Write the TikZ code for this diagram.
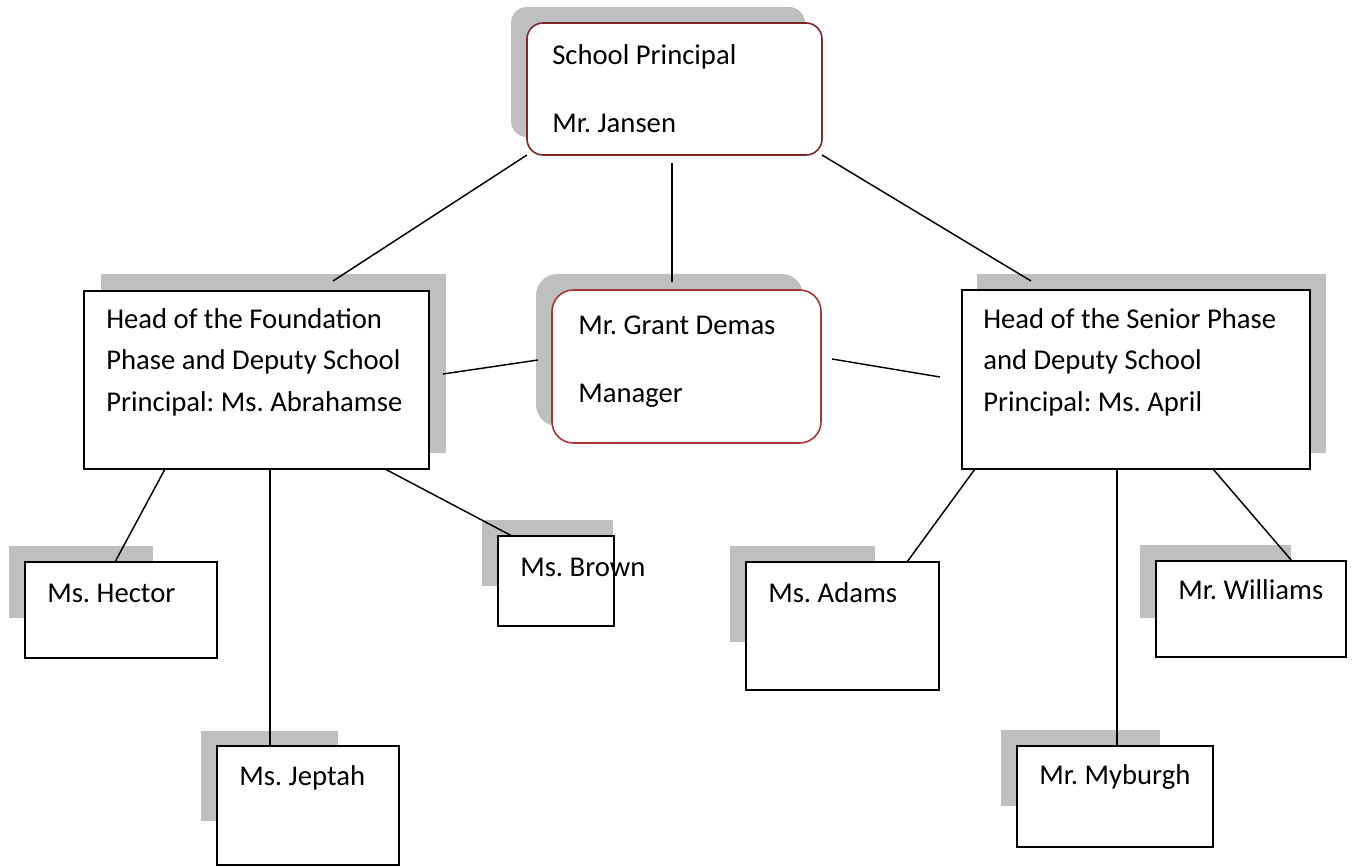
\documentclass[tikz,border=0pt]{standalone}
\usepackage{fontspec}
\setmainfont{Carlito}
\frenchspacing
\usetikzlibrary{calc}
\definecolor{shadowgray}{RGB}{191,191,191}
\definecolor{principalred}{RGB}{122,40,40}
\definecolor{managerred}{RGB}{170,52,52}
\begin{document}
\begin{tikzpicture}[x=0.75pt,y=-0.75pt,
  staffbox/.style={draw=black,fill=white,line width=1.5pt,inner sep=0pt,outer sep=0pt,anchor=north west},
  roundbox/.style={fill=white,line width=1.2pt,inner sep=0pt,outer sep=0pt,anchor=north west},
  boxtext/.style={anchor=base west,inner sep=0pt,align=left,font=\fontsize{21.5}{31}\selectfont},
  wide/.style={font=\fontsize{21.5}{51}\selectfont},
  link/.style={draw=black,line width=1.1pt}]
\useasboundingbox (0,0) rectangle (1363,866);
%% shadows
\fill[shadowgray,rounded corners=12pt] (511,7) rectangle (805,137);
\fill[shadowgray,rounded corners=16pt] (536,274) rectangle (803,426);
\fill[shadowgray] (101,274) rectangle (446,453);
\fill[shadowgray] (977,274) rectangle (1326,453);
\fill[shadowgray] (9,546) rectangle (153,618);
\fill[shadowgray] (482,520) rectangle (613,586);
\fill[shadowgray] (730,546) rectangle (875,642);
\fill[shadowgray] (1140,545) rectangle (1291,618);
\fill[shadowgray] (201,731) rectangle (338,821);
\fill[shadowgray] (1001,730) rectangle (1160,806);
%% free ends of the connectors
\coordinate (cHeadL) at (333,281);
\coordinate (cHeadR) at (1031,281);
\coordinate (cPrinDown) at (672,163);
\coordinate (cMgrUp) at (672,282);
\coordinate (cHeadLOut) at (443,374);
\coordinate (cMgrIn) at (538,360);
\coordinate (cMgrOut) at (832,359);
\coordinate (cHeadRIn) at (940,377);
%% connectors
\draw[link] (cPrinDown) -- (cMgrUp);
\draw[link] (cHeadLOut) -- (cMgrIn);
\draw[link] (cMgrOut) -- (cHeadRIn);
\draw[link] (270,469) -- (270,746);
\draw[link] (1117,469) -- (1117,746);
%% boxes
\node (principal) at (527,23) [roundbox,draw=principalred,rounded corners=12pt,minimum width=221.25pt,minimum height=99pt] {};
\node (manager) at (552,290) [roundbox,draw=managerred,rounded corners=16pt,minimum width=201.75pt,minimum height=114.75pt] {};
\node (headL) at (84,291) [staffbox,minimum width=258.75pt,minimum height=133.5pt] {};
\node (headR) at (962,290) [staffbox,minimum width=261pt,minimum height=134.25pt] {};
\node (hector) at (25,562) [staffbox,minimum width=144pt,minimum height=72pt] {};
\node (brown) at (498,536) [staffbox,minimum width=87pt,minimum height=67.5pt] {};
\node (jeptah) at (217,746) [staffbox,minimum width=136.5pt,minimum height=89.25pt] {};
\node (adams) at (746,562) [staffbox,minimum width=144.75pt,minimum height=96pt] {};
\node (williams) at (1156,561) [staffbox,minimum width=142.5pt,minimum height=72pt] {};
\node (myburgh) at (1017,746) [staffbox,minimum width=147pt,minimum height=75.75pt] {};
%% texts (base is the last line)
\node (principalText) at ($(principal.north west)+(25,110)$) [boxtext,wide] {School Principal\\Mr. Jansen};
\node (managerText) at ($(manager.north west)+(26,112)$) [boxtext,wide] {Mr. Grant Demas\\Manager};
\node (headLText) at ($(headL.north west)+(22,120)$) [boxtext] {Head of the Foundation\\Phase and Deputy School\\Principal: Ms. Abrahamse};
\node (headRText) at ($(headR.north west)+(21,121)$) [boxtext] {Head of the Senior Phase\\and Deputy School\\Principal: Ms. April};
\node (hectorText) at ($(hector.north west)+(22,40)$) [boxtext] {Ms. Hector};
\node (brownText) at ($(brown.north west)+(22,40)$) [boxtext] {Ms. Brown};
\node (jeptahText) at ($(jeptah.north west)+(22,39)$) [boxtext] {Ms. Jeptah};
\node (adamsText) at ($(adams.north west)+(22,40)$) [boxtext] {Ms. Adams};
\node (williamsText) at ($(williams.north west)+(22,38)$) [boxtext] {Mr. Williams};
\node (myburghText) at ($(myburgh.north west)+(22,38)$) [boxtext] {Mr. Myburgh};
%% connectors from the boxes
\draw[link] (principal.south west) -- (cHeadL);
\draw[link] (principal.south east) -- (cHeadR);
\draw[link] ($(headL.south west)+(81,0)$) -- ($(hector.north west)+(90,0)$);
\draw[link] ($(headL.south west)+(301,0)$) -- ($(brown.north west)+(14,0)$);
\draw[link] ($(headR.south west)+(13,0)$) -- ($(adams.north west)+(161,0)$);
\draw[link] ($(headR.south west)+(251,0)$) -- ($(williams.north west)+(136,0)$);
%
\end{tikzpicture}
\end{document}
